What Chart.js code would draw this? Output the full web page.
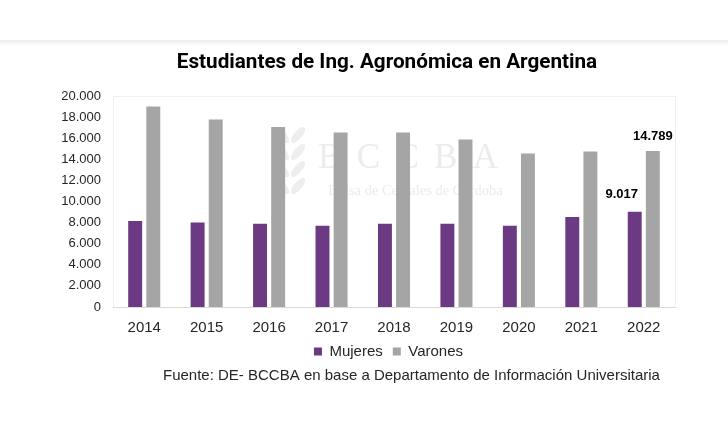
<!DOCTYPE html>
<html>
<head>
<meta charset="utf-8">
<script src="https://cdn.jsdelivr.net/npm/chart.js@4"></script>
<style>
  html, body { margin: 0; padding: 0; background: #ffffff; }
  #wrap { position: relative; width: 728px; height: 430px; }
</style>
</head>
<body>
<div id="wrap"><canvas id="c" width="728" height="430"></canvas></div>
<script>
// ---- Data ----
const years = ['2014', '2015', '2016', '2017', '2018', '2019', '2020', '2021', '2022'];
const mujeres = [8160, 8000, 7900, 7690, 7900, 7900, 7690, 8540, 9017];
const varones = [19000, 17780, 17050, 16540, 16540, 15880, 14540, 14730, 14789];
const labeledIndex = [8];
const titleText = 'Estudiantes de Ing. Agronómica en Argentina';
const sourceText = 'Fuente: DE- BCCBA en base a Departamento de Información Universitaria';
const watermarkBig = 'B C C B A';
const watermarkSmall = 'Bolsa de Cereales de Córdoba';

function fmt(v) {
  return String(Math.round(v)).replace(/\B(?=(\d{3})+(?!\d))/g, '.');
}

const decor = {
  id: 'decor',
  beforeDraw(chart) {
    const ctx = chart.ctx;
    ctx.save();
    // header separation
    const g = ctx.createLinearGradient(0, 40, 0, 46);
    g.addColorStop(0, '#ececec');
    g.addColorStop(1, '#ffffff');
    ctx.fillStyle = g;
    ctx.fillRect(0, 40, 728, 6);
    // title
    ctx.fillStyle = '#000000';
    ctx.font = 'bold 20.7px Roboto';
    ctx.textAlign = 'center';
    ctx.textBaseline = 'middle';
    ctx.fillText(titleText, 387, 63);
    // source
    ctx.font = '15px "Liberation Sans", Arial, sans-serif';
    ctx.fillStyle = '#262626';
    ctx.textAlign = 'left';
    ctx.fillText(sourceText, 163, 376);
    // plot area frame
    const a = chart.chartArea;
    ctx.strokeStyle = '#f0f0f0';
    ctx.lineWidth = 1;
    ctx.strokeRect(Math.round(a.left) + 0.5, Math.round(a.top) + 0.5, Math.round(a.right - a.left), Math.round(a.bottom - a.top));
    // watermark
    ctx.fillStyle = '#ececec';
    ctx.font = '35px "Liberation Serif", serif';
    ctx.textAlign = 'left';
    ctx.textBaseline = 'alphabetic';
    try { ctx.letterSpacing = '3.3px'; } catch (e) {}
    ctx.fillText(watermarkBig, 318, 168);
    try { ctx.letterSpacing = '0px'; } catch (e) {}
    ctx.font = '14.5px "Liberation Serif", serif';
    ctx.fillText(watermarkSmall, 328, 195);
    // wheat icon
    ctx.fillStyle = '#eeeeee';
    const leaves = [[290,135],[290,152],[290,169],[290,186]];
    leaves.forEach(([x,y]) => {
      ctx.beginPath(); ctx.ellipse(x - 8, y, 4, 10, -0.7, 0, Math.PI * 2); ctx.fill();
      ctx.beginPath(); ctx.ellipse(x + 8, y, 4, 10, 0.7, 0, Math.PI * 2); ctx.fill();
    });
    ctx.restore();
  },
  afterDatasetsDraw(chart) {
    const ctx = chart.ctx;
    ctx.save();
    ctx.font = 'bold 13px "Liberation Sans", Arial, sans-serif';
    ctx.fillStyle = '#000000';
    ctx.textAlign = 'center';
    ctx.textBaseline = 'middle';
    labeledIndex.forEach(i => {
      const m = chart.getDatasetMeta(0).data[i];
      const v = chart.getDatasetMeta(1).data[i];
      ctx.fillText(fmt(mujeres[i]), m.x - 13, m.y - 17);
      ctx.fillText(fmt(varones[i]), v.x, v.y - 15);
    });
    ctx.restore();
  },
  afterLayout(chart) {
    const lg = chart.legend;
    if (lg) { lg.left += 26; lg.right += 26; }
  }
};

new Chart(document.getElementById('c'), {
  type: 'bar',
  data: {
    labels: years,
    datasets: [
      { label: 'Mujeres', data: mujeres, backgroundColor: '#6B3A82', categoryPercentage: 0.58, barPercentage: 0.77 },
      { label: 'Varones', data: varones, backgroundColor: '#A5A5A5', categoryPercentage: 0.58, barPercentage: 0.77 }
    ]
  },
  options: {
    responsive: false,
    animation: false,
    layout: { padding: { left: 50, right: 53, top: 96, bottom: 61 } },
    plugins: {
      title: { display: false },
      tooltip: { enabled: false },
      legend: {
        position: 'bottom',
        labels: {
          boxWidth: 8, boxHeight: 8, padding: 10,
          color: '#262626',
          font: { family: '"Liberation Sans", Arial, sans-serif', size: 15 }
        }
      }
    },
    scales: {
      x: {
        grid: { display: false, drawTicks: false },
        border: { color: '#d9d9d9' },
        ticks: { padding: 12, color: '#262626', font: { family: '"Liberation Sans", Arial, sans-serif', size: 15 } },
        afterFit(s) { s.height = 27; }
      },
      y: {
        min: 0, max: 20000,
        grid: { display: false, drawTicks: false },
        border: { display: false },
        ticks: {
          stepSize: 2000, padding: 12, color: '#262626',
          font: { family: '"Liberation Sans", Arial, sans-serif', size: 13 },
          callback: v => fmt(v)
        },
        afterFit(s) { s.width = 63; }
      }
    }
  },
  plugins: [decor]
});
</script>
</body>
</html>
